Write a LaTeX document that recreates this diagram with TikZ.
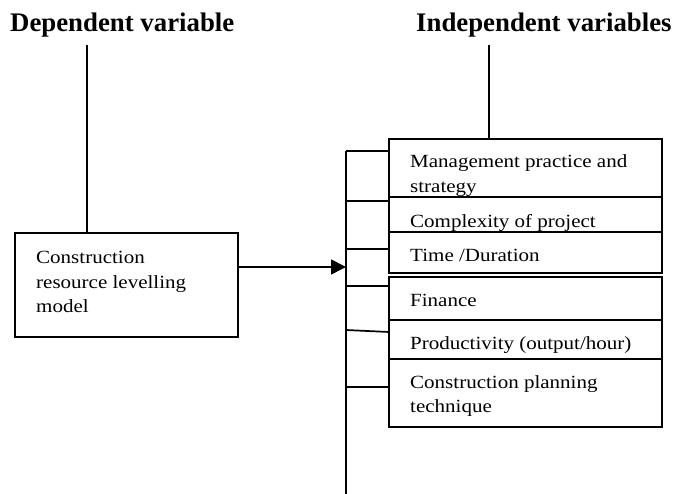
\documentclass[tikz,border=0pt]{standalone}
\usepackage{fontspec}
\setmainfont{Liberation Serif}
\newfontfamily\bodyf[FakeStretch=1.13]{Liberation Serif}
\usetikzlibrary{arrows.meta}
\begin{document}
\begin{tikzpicture}[x=1pt,y=-1pt,
  ln/.style={line width=1.7pt},
  box/.style={draw, line width=1.6pt, fill=white, outer sep=0pt, inner sep=0pt, anchor=north west, minimum width=273pt},
  txt/.style={font=\bodyf\fontsize{18.6}{24.5}\selectfont, align=left, anchor=base west, inner sep=0pt},
  ttl/.style={font=\bfseries\fontsize{26.8}{30}\selectfont, anchor=base west, inner sep=0pt}]
\useasboundingbox (0,0) rectangle (673,494);
% titles
\node[ttl] (dep) at (10,32) {Dependent variable};
\node[ttl] (ind) at (416,32) {Independent variables};
% left box
\node[box, minimum width=223pt, minimum height=104pt] (lbox) at (15,233) {};
\node[txt] (ltxt) at (36,313) {Construction\\resource levelling\\model};
\coordinate (dtop) at (87,45);
\draw[ln] (dtop) -- (dtop |- lbox.north);
% right boxes
\node[box, minimum height=58pt] (b1) at (389,139) {};
\node[txt] (t1) at (410,192.5) {Management practice and\\strategy};
\node[box, minimum height=50pt] (b2) at (389,197) {};
\node[txt] (t2) at (410,228) {Complexity of project};
\node[box, minimum height=41pt] (b3) at (389,232) {};
\node[txt] (t3) at (410,262) {Time /Duration};
\node[box, minimum height=43pt] (b4) at (389,277) {};
\node[txt] (t4) at (410,307) {Finance};
\node[box, minimum height=39pt] (b5) at (389,320) {};
\node[txt] (t5) at (410,350) {Productivity (output/hour)};
\node[box, minimum height=68pt] (b6) at (389,359) {};
\node[txt] (t6) at (410,413) {Construction planning\\technique};
\coordinate (itop) at (489,45);
\draw[ln] (itop) -- (itop |- b1.north);
% bus
\coordinate (bustop) at (346,151);
\coordinate (busbot) at (346,494);
\draw[ln] (bustop) -- (busbot);
\coordinate (k2) at (346,201);
\coordinate (k3) at (346,249);
\coordinate (k4) at (346,286);
\coordinate (k5) at (346,330);
\coordinate (k6) at (346,387);
\draw[ln] (bustop) -- (bustop -| b1.west);
\draw[ln] (k2) -- (k2 -| b2.west);
\draw[ln] (k3) -- (k3 -| b3.west);
\draw[ln] (k4) -- (k4 -| b4.west);
\draw[ln] (k5) -- ([yshift=-2pt]k5 -| b5.west);
\draw[ln] (k6) -- (k6 -| b6.west);
% arrow
\coordinate (arr) at (346,267);
\draw[ln,-{Triangle[length=15pt,width=15pt]}] (lbox.east |- arr) -- (arr);
\end{tikzpicture}
\end{document}
